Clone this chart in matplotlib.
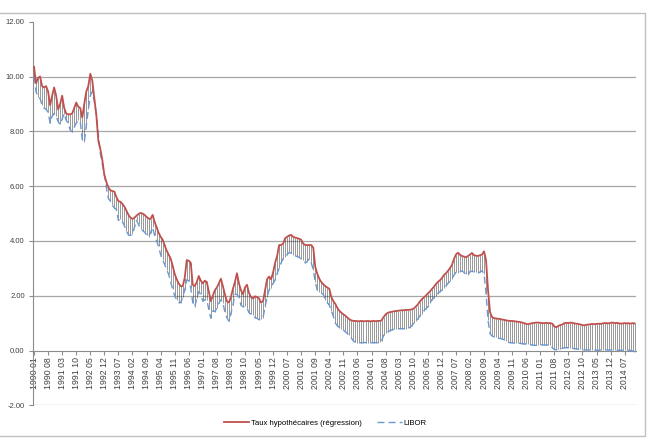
import numpy as np
import matplotlib.pyplot as plt
from matplotlib.lines import Line2D
from matplotlib.patches import Rectangle

plt.rcParams['font.family'] = ['Liberation Sans', 'DejaVu Sans']

# Monthly series, 1990-01 .. 2014-12
mortgage = [
    10.35, 9.75, 9.95, 10.00, 9.65, 9.60, 9.65, 9.45, 8.95, 9.30, 9.60, 9.30,   # 1990
    8.80, 9.00, 9.30, 8.85, 8.65, 8.62, 8.62, 8.65, 8.85, 9.05, 8.90, 8.85,     # 1991
    8.50, 9.00, 9.45, 9.65, 10.10, 9.85, 9.20, 8.60, 7.65, 7.35, 6.95, 6.40,    # 1992
    6.15, 5.95, 5.85, 5.82, 5.80, 5.60, 5.45, 5.43, 5.35, 5.25, 5.10, 4.95,     # 1993
    4.85, 4.80, 4.85, 4.92, 4.98, 5.02, 5.00, 4.95, 4.88, 4.82, 4.80, 4.95,     # 1994
    4.70, 4.50, 4.30, 4.15, 4.05, 3.85, 3.65, 3.50, 3.35, 3.10, 2.80, 2.60,     # 1995
    2.45, 2.35, 2.35, 2.65, 3.30, 3.28, 3.20, 2.40, 2.35, 2.50, 2.72, 2.55,     # 1996
    2.45, 2.55, 2.50, 2.15, 1.80, 2.00, 2.20, 2.30, 2.45, 2.62, 2.35, 2.05,     # 1997
    1.80, 1.75, 1.95, 2.25, 2.50, 2.82, 2.45, 2.20, 2.05, 2.30, 2.40, 2.10,     # 1998
    1.95, 1.90, 1.98, 1.95, 1.90, 1.75, 1.80, 2.20, 2.60, 2.70, 2.60, 2.85,     # 1999
    3.20, 3.45, 3.85, 3.85, 3.90, 4.10, 4.15, 4.20, 4.22, 4.15, 4.12, 4.10,     # 2000
    4.08, 4.04, 3.90, 3.85, 3.85, 3.85, 3.85, 3.75, 3.05, 2.80, 2.62, 2.50,     # 2001
    2.42, 2.35, 2.30, 2.25, 1.95, 1.80, 1.70, 1.55, 1.45, 1.38, 1.32, 1.27,     # 2002
    1.20, 1.14, 1.10, 1.08, 1.08, 1.07, 1.07, 1.08, 1.07, 1.07, 1.08, 1.07,     # 2003
    1.07, 1.08, 1.07, 1.08, 1.08, 1.10, 1.22, 1.32, 1.37, 1.40, 1.41, 1.43,     # 2004
    1.44, 1.45, 1.46, 1.47, 1.47, 1.48, 1.48, 1.49, 1.50, 1.53, 1.60, 1.68,     # 2005
    1.78, 1.87, 1.93, 2.00, 2.08, 2.15, 2.24, 2.32, 2.42, 2.50, 2.56, 2.64,     # 2006
    2.75, 2.82, 2.90, 3.00, 3.12, 3.33, 3.50, 3.57, 3.50, 3.45, 3.43, 3.40,     # 2007
    3.45, 3.50, 3.56, 3.48, 3.46, 3.45, 3.48, 3.50, 3.62, 3.30, 2.20, 1.40,     # 2008
    1.22, 1.18, 1.17, 1.16, 1.15, 1.13, 1.12, 1.10, 1.09, 1.08, 1.08, 1.07,     # 2009
    1.06, 1.05, 1.04, 1.02, 1.00, 0.97, 0.96, 0.98, 1.00, 1.01, 1.02, 1.02,     # 2010
    1.01, 1.00, 1.00, 1.01, 1.00, 1.00, 0.98, 0.88, 0.85, 0.90, 0.93, 0.95,     # 2011
    1.00, 1.01, 1.00, 1.02, 1.01, 0.99, 0.98, 0.97, 0.95, 0.93, 0.92, 0.94,     # 2012
    0.95, 0.96, 0.97, 0.96, 0.97, 0.98, 0.97, 0.99, 1.00, 1.00, 0.99, 1.01,     # 2013
    1.02, 1.00, 1.01, 1.00, 0.98, 0.99, 1.00, 0.99, 1.00, 0.98, 1.00, 0.99,     # 2014
]

libor = [
    10.00, 9.45, 9.25, 9.20, 8.95, 8.85, 8.80, 8.70, 8.30, 8.55, 8.65, 8.55,    # 1990
    8.35, 8.25, 8.45, 8.65, 8.40, 8.30, 8.05, 7.98, 8.15, 8.30, 8.40, 8.35,     # 1991
    7.70, 7.60, 8.20, 8.80, 9.30, 9.45, 9.10, 8.60, 7.90, 7.20, 6.80, 6.45,     # 1992
    5.95, 5.55, 5.45, 5.30, 5.20, 5.15, 4.75, 4.80, 4.70, 4.55, 4.35, 4.22,     # 1993
    4.20, 4.25, 4.50, 4.75, 4.60, 4.45, 4.38, 4.32, 4.22, 4.15, 4.30, 4.50,     # 1994
    4.20, 4.00, 3.80, 3.50, 3.30, 3.15, 2.95, 2.78, 2.50, 2.25, 2.00, 1.85,     # 1995
    1.75, 1.75, 1.95, 2.20, 2.58, 2.55, 2.30, 1.75, 1.60, 1.90, 2.15, 2.05,     # 1996
    1.80, 1.85, 1.85, 1.50, 1.18, 1.45, 1.42, 1.55, 1.72, 1.85, 1.75, 1.40,     # 1997
    1.20, 1.07, 1.35, 1.65, 2.05, 2.05, 1.95, 1.65, 1.60, 1.62, 1.55, 1.38,     # 1998
    1.33, 1.30, 1.20, 1.17, 1.13, 1.15, 1.20, 1.60, 1.95, 2.22, 2.30, 2.45,     # 1999
    2.58, 2.80, 3.00, 3.20, 3.35, 3.43, 3.50, 3.58, 3.55, 3.50, 3.46, 3.43,     # 2000
    3.40, 3.35, 3.30, 3.20, 3.25, 3.35, 3.20, 2.95, 2.50, 2.20, 2.15, 2.10,     # 2001
    2.05, 1.85, 1.75, 1.65, 1.45, 1.25, 1.00, 0.90, 0.84, 0.80, 0.75, 0.68,     # 2002
    0.62, 0.56, 0.45, 0.35, 0.30, 0.29, 0.29, 0.28, 0.29, 0.29, 0.28, 0.29,     # 2003
    0.29, 0.28, 0.29, 0.29, 0.30, 0.35, 0.55, 0.63, 0.67, 0.72, 0.75, 0.77,     # 2004
    0.78, 0.79, 0.80, 0.80, 0.80, 0.80, 0.81, 0.84, 0.90, 1.00, 1.08, 1.15,     # 2005
    1.25, 1.35, 1.45, 1.52, 1.60, 1.72, 1.85, 1.92, 2.00, 2.08, 2.15, 2.20,     # 2006
    2.28, 2.35, 2.45, 2.52, 2.62, 2.75, 2.85, 2.82, 2.88, 2.91, 2.85, 2.78,     # 2007
    2.75, 2.88, 2.90, 2.86, 2.85, 2.84, 2.86, 2.91, 2.80, 2.10, 1.10, 0.62,     # 2008
    0.53, 0.50, 0.48, 0.45, 0.44, 0.42, 0.40, 0.35, 0.30, 0.29, 0.28, 0.28,     # 2009
    0.27, 0.27, 0.26, 0.25, 0.24, 0.24, 0.23, 0.22, 0.20, 0.19, 0.19, 0.20,     # 2010
    0.20, 0.21, 0.20, 0.20, 0.20, 0.19, 0.10, 0.04, 0.03, 0.05, 0.06, 0.08,     # 2011
    0.10, 0.11, 0.10, 0.09, 0.08, 0.07, 0.06, 0.05, 0.04, 0.03, 0.02, 0.02,     # 2012
    0.02, 0.02, 0.02, 0.02, 0.01, 0.01, 0.02, 0.02, 0.02, 0.02, 0.02, 0.02,     # 2013
    0.02, 0.02, 0.01, 0.01, 0.01, 0.01, 0.01, 0.01, 0.01, 0.00, -0.01, -0.06,   # 2014
]

tick_labels = [
    "1990 01", "1990 08", "1991 03", "1991 10", "1992 05", "1992 12", "1993 07",
    "1994 02", "1994 09", "1995 04", "1995 11", "1996 06", "1997 01", "1997 08",
    "1998 03", "1998 10", "1999 05", "1999 12", "2000 07", "2001 02", "2001 09",
    "2002 04", "2002 11", "2003 06", "2004 01", "2004 08", "2005 03", "2005 10",
    "2006 05", "2006 12", "2007 07", "2008 02", "2008 09", "2009 04", "2009 11",
    "2010 06", "2011 01", "2011 08", "2012 03", "2012 10", "2013 05", "2013 12",
    "2014 07",
]
y_ticks = [-2, 0, 2, 4, 6, 8, 10, 12]

x = np.arange(len(mortgage))
tick_pos = np.arange(len(tick_labels)) * 7

fig = plt.figure(figsize=(6.48, 4.43), dpi=100)
ax = fig.add_axes([0.051, 0.085, 0.93, 0.866])

# grid lines (no line drawn at the top value)
for v in y_ticks[:-1]:
    if v != 0:
        ax.axhline(v, color='#a6a6a6', lw=0.9, zorder=0)

# high-low lines between the two series
ax.vlines(x, libor, mortgage, color='black', lw=0.4, alpha=0.7, zorder=2)
ax.plot(x, libor, color='#6a97d2', lw=1.0, dashes=(5, 3), zorder=3)
ax.plot(x, mortgage, color='#c0504d', lw=1.3, zorder=4)

ax.set_xlim(-0.5, len(mortgage) - 0.5)
ax.set_ylim(-2, 12)
ax.set_yticks(y_ticks)
ax.set_yticklabels([f"{v:.2f}" for v in y_ticks])
ax.set_xticks(tick_pos)
ax.set_xticklabels(tick_labels)

ax.spines['top'].set_visible(False)
ax.spines['right'].set_visible(False)
ax.spines['bottom'].set_position(('data', 0))
ax.spines['bottom'].set_color('#8c8c8c')
ax.spines['left'].set_color('#8c8c8c')
ax.tick_params(axis='y', length=3, color='#8c8c8c', labelsize=5.5,
               labelcolor='#404040', pad=3)
ax.tick_params(axis='x', length=3, color='#8c8c8c', labelsize=6.3,
               labelcolor='#404040', pad=2, labelrotation=90)

handles = [Line2D([], [], color='#c0504d', lw=1.3),
           Line2D([], [], color='#6a97d2', lw=1.0, dashes=(5, 3))]
fig.legend(handles, ['Taux hypothécaires (régression)', 'LIBOR'],
           loc='center', bbox_to_anchor=(0.502, 0.045), ncol=2, frameon=False,
           fontsize=5.6, handlelength=3.2, handletextpad=0.2, columnspacing=2.0)

# chart border
fig.patches.append(Rectangle((-0.01, 0.016), 0.007 + 0.9985, 0.955,
                             transform=fig.transFigure, fill=False,
                             edgecolor='#bfbfbf', lw=1.0))

fig.savefig('out.png', dpi=100)
